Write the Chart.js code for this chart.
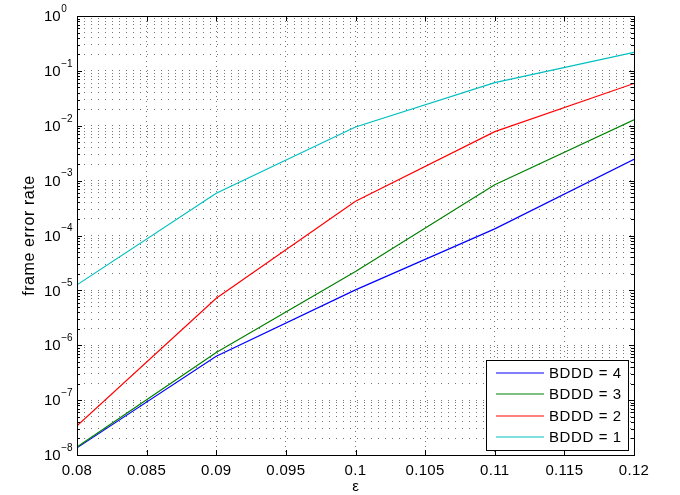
<!DOCTYPE html>
<html>
<head>
<meta charset="utf-8">
<script src="https://cdn.jsdelivr.net/npm/chart.js@4.4.1/dist/chart.umd.min.js"></script>
<style>
  html, body { margin: 0; padding: 0; background: #fff; }
  #wrap { width: 680px; height: 495px; }
</style>
</head>
<body>
<div id="wrap"><canvas id="c"></canvas></div>
<script>
// ----- data -----
const epsValues = [0.08, 0.09, 0.1, 0.11, 0.12];
const ferBddd4 = [1.35e-8, 6.3e-7, 1.02e-5, 1.32e-4, 2.45e-3];
const ferBddd3 = [1.4e-8, 7.4e-7, 2.2e-5, 8.4e-4, 1.28e-2];
const ferBddd2 = [3.4e-8, 7.2e-6, 4.2e-4, 7.8e-3, 5.9e-2];
const ferBddd1 = [1.26e-5, 5.9e-4, 9.5e-3, 6.1e-2, 2.18e-1];
const seriesLabels = ['BDDD = 4', 'BDDD = 3', 'BDDD = 2', 'BDDD = 1'];
const seriesColors = ['#0000ff', '#008000', '#ff0000', '#00bfbf'];

const xTicks = [0.08, 0.085, 0.09, 0.095, 0.1, 0.105, 0.11, 0.115, 0.12];
const xTickLabels = ['0.08', '0.085', '0.09', '0.095', '0.1', '0.105', '0.11', '0.115', '0.12'];
const yExponents = [-8, -7, -6, -5, -4, -3, -2, -1, 0];

// minor + major log grid values (1..9 per decade)
const yGrid = [];
yExponents.forEach(e => {
  const n = e === 0 ? 1 : 9;
  for (let s = 1; s <= n; s++) yGrid.push(s * Math.pow(10, e));
});

const FONT = "'Liberation Sans', Arial, sans-serif";
const GRID = { color: '#777', lineWidth: 1, drawTicks: false };

const toPoints = arr => arr.map((v, i) => ({ x: epsValues[i], y: v }));
const allSeries = [ferBddd4, ferBddd3, ferBddd2, ferBddd1];

// frame, inner tick marks, tick labels, axis titles and legend (MATLAB look)
const matlabFrame = {
  id: 'matlabFrame',
  afterDraw(chart) {
    const { ctx, chartArea: a, scales: { x, y } } = chart;
    ctx.save();
    ctx.strokeStyle = '#000';
    ctx.lineWidth = 1;
    ctx.setLineDash([]);
    ctx.strokeRect(Math.round(a.left) + 0.5, Math.round(a.top) + 0.5,
      Math.round(a.right - a.left), Math.round(a.bottom - a.top));

    // x ticks
    ctx.beginPath();
    xTicks.forEach(v => {
      const px = Math.round(x.getPixelForValue(v)) + 0.5;
      ctx.moveTo(px, a.bottom); ctx.lineTo(px, a.bottom - 5);
      ctx.moveTo(px, a.top); ctx.lineTo(px, a.top + 5);
    });
    // y ticks
    yGrid.forEach(v => {
      const py = Math.round(y.getPixelForValue(v)) + 0.5;
      const major = Math.abs(Math.log10(v) - Math.round(Math.log10(v))) < 1e-9;
      const len = major ? 5 : 3;
      ctx.moveTo(a.left, py); ctx.lineTo(a.left + len, py);
      ctx.moveTo(a.right, py); ctx.lineTo(a.right - len, py);
    });
    ctx.stroke();

    ctx.fillStyle = '#000';
    // x labels
    ctx.font = '15px ' + FONT;
    ctx.letterSpacing = '0.3px';
    ctx.textAlign = 'center';
    ctx.textBaseline = 'middle';
    xTicks.forEach((v, i) => {
      ctx.fillText(xTickLabels[i], x.getPixelForValue(v), a.bottom + 16);
    });
    ctx.letterSpacing = '0px';
    // y labels: 10^e
    yExponents.forEach(e => {
      const py = y.getPixelForValue(Math.pow(10, e));
      ctx.textAlign = 'left';
      ctx.font = '15px ' + FONT;
      ctx.fillText('10', 44, py + 1);
      const w = ctx.measureText('10').width;
      ctx.font = '10px ' + FONT;
      ctx.fillText(e === 0 ? '0' : '\u2212' + Math.abs(e), 44 + w + 0.5, py - 7);
    });

    // axis titles
    ctx.font = '15px ' + FONT;
    ctx.textAlign = 'center';
    ctx.fillText('\u03b5', (a.left + a.right) / 2, 487);
    ctx.save();
    ctx.translate(30, (a.top + a.bottom) / 2);
    ctx.rotate(-Math.PI / 2);
    ctx.font = '16px ' + FONT;
    ctx.letterSpacing = '0.6px';
    ctx.fillText('frame error rate', 0, 0);
    ctx.restore();

    // legend box
    const lx = 486, ly = 360, lw = 142, lh = 90;
    ctx.fillStyle = '#fff';
    ctx.fillRect(lx, ly, lw, lh);
    ctx.strokeStyle = '#000';
    ctx.strokeRect(lx + 0.5, ly + 0.5, lw, lh);
    ctx.font = '15px ' + FONT;
    ctx.letterSpacing = '0.6px';
    ctx.textAlign = 'left';
    chart.data.datasets.forEach((ds, i) => {
      const ry = Math.round(373 + i * 21.4);
      ctx.strokeStyle = seriesColors[i];
      ctx.lineWidth = 1.2;
      ctx.beginPath();
      ctx.moveTo(496, ry); ctx.lineTo(544, ry);
      ctx.stroke();
      ctx.fillStyle = '#000';
      ctx.fillText(ds.label, 549, ry + 1);
    });
    ctx.restore();
  }
};

new Chart(document.getElementById('c'), {
  type: 'line',
  data: {
    datasets: allSeries.map((arr, i) => ({
      label: seriesLabels[i],
      data: toPoints(arr),
      borderColor: seriesColors[i],
      backgroundColor: seriesColors[i],
      borderWidth: 1.2,
      pointRadius: 0,
      tension: 0,
      fill: false,
      order: allSeries.length - i,
    })),
  },
  options: {
    responsive: true,
    maintainAspectRatio: false,
    animation: false,
    layout: { padding: { left: 77, right: 46, top: 16, bottom: 40 } },
    plugins: { legend: { display: false }, tooltip: { enabled: false } },
    scales: {
      x: {
        type: 'linear',
        min: 0.08,
        max: 0.12,
        afterBuildTicks: s => { s.ticks = xTicks.map(v => ({ value: v })); },
        ticks: { display: false },
        grid: GRID,
        border: { display: false, dash: [1, 4] },
      },
      y: {
        type: 'logarithmic',
        min: 1e-8,
        max: 1,
        afterBuildTicks: s => { s.ticks = yGrid.map(v => ({ value: v })); },
        ticks: { display: false },
        grid: GRID,
        border: { display: false, dash: [1, 6] },
      },
    },
  },
  plugins: [matlabFrame],
});
</script>
</body>
</html>
